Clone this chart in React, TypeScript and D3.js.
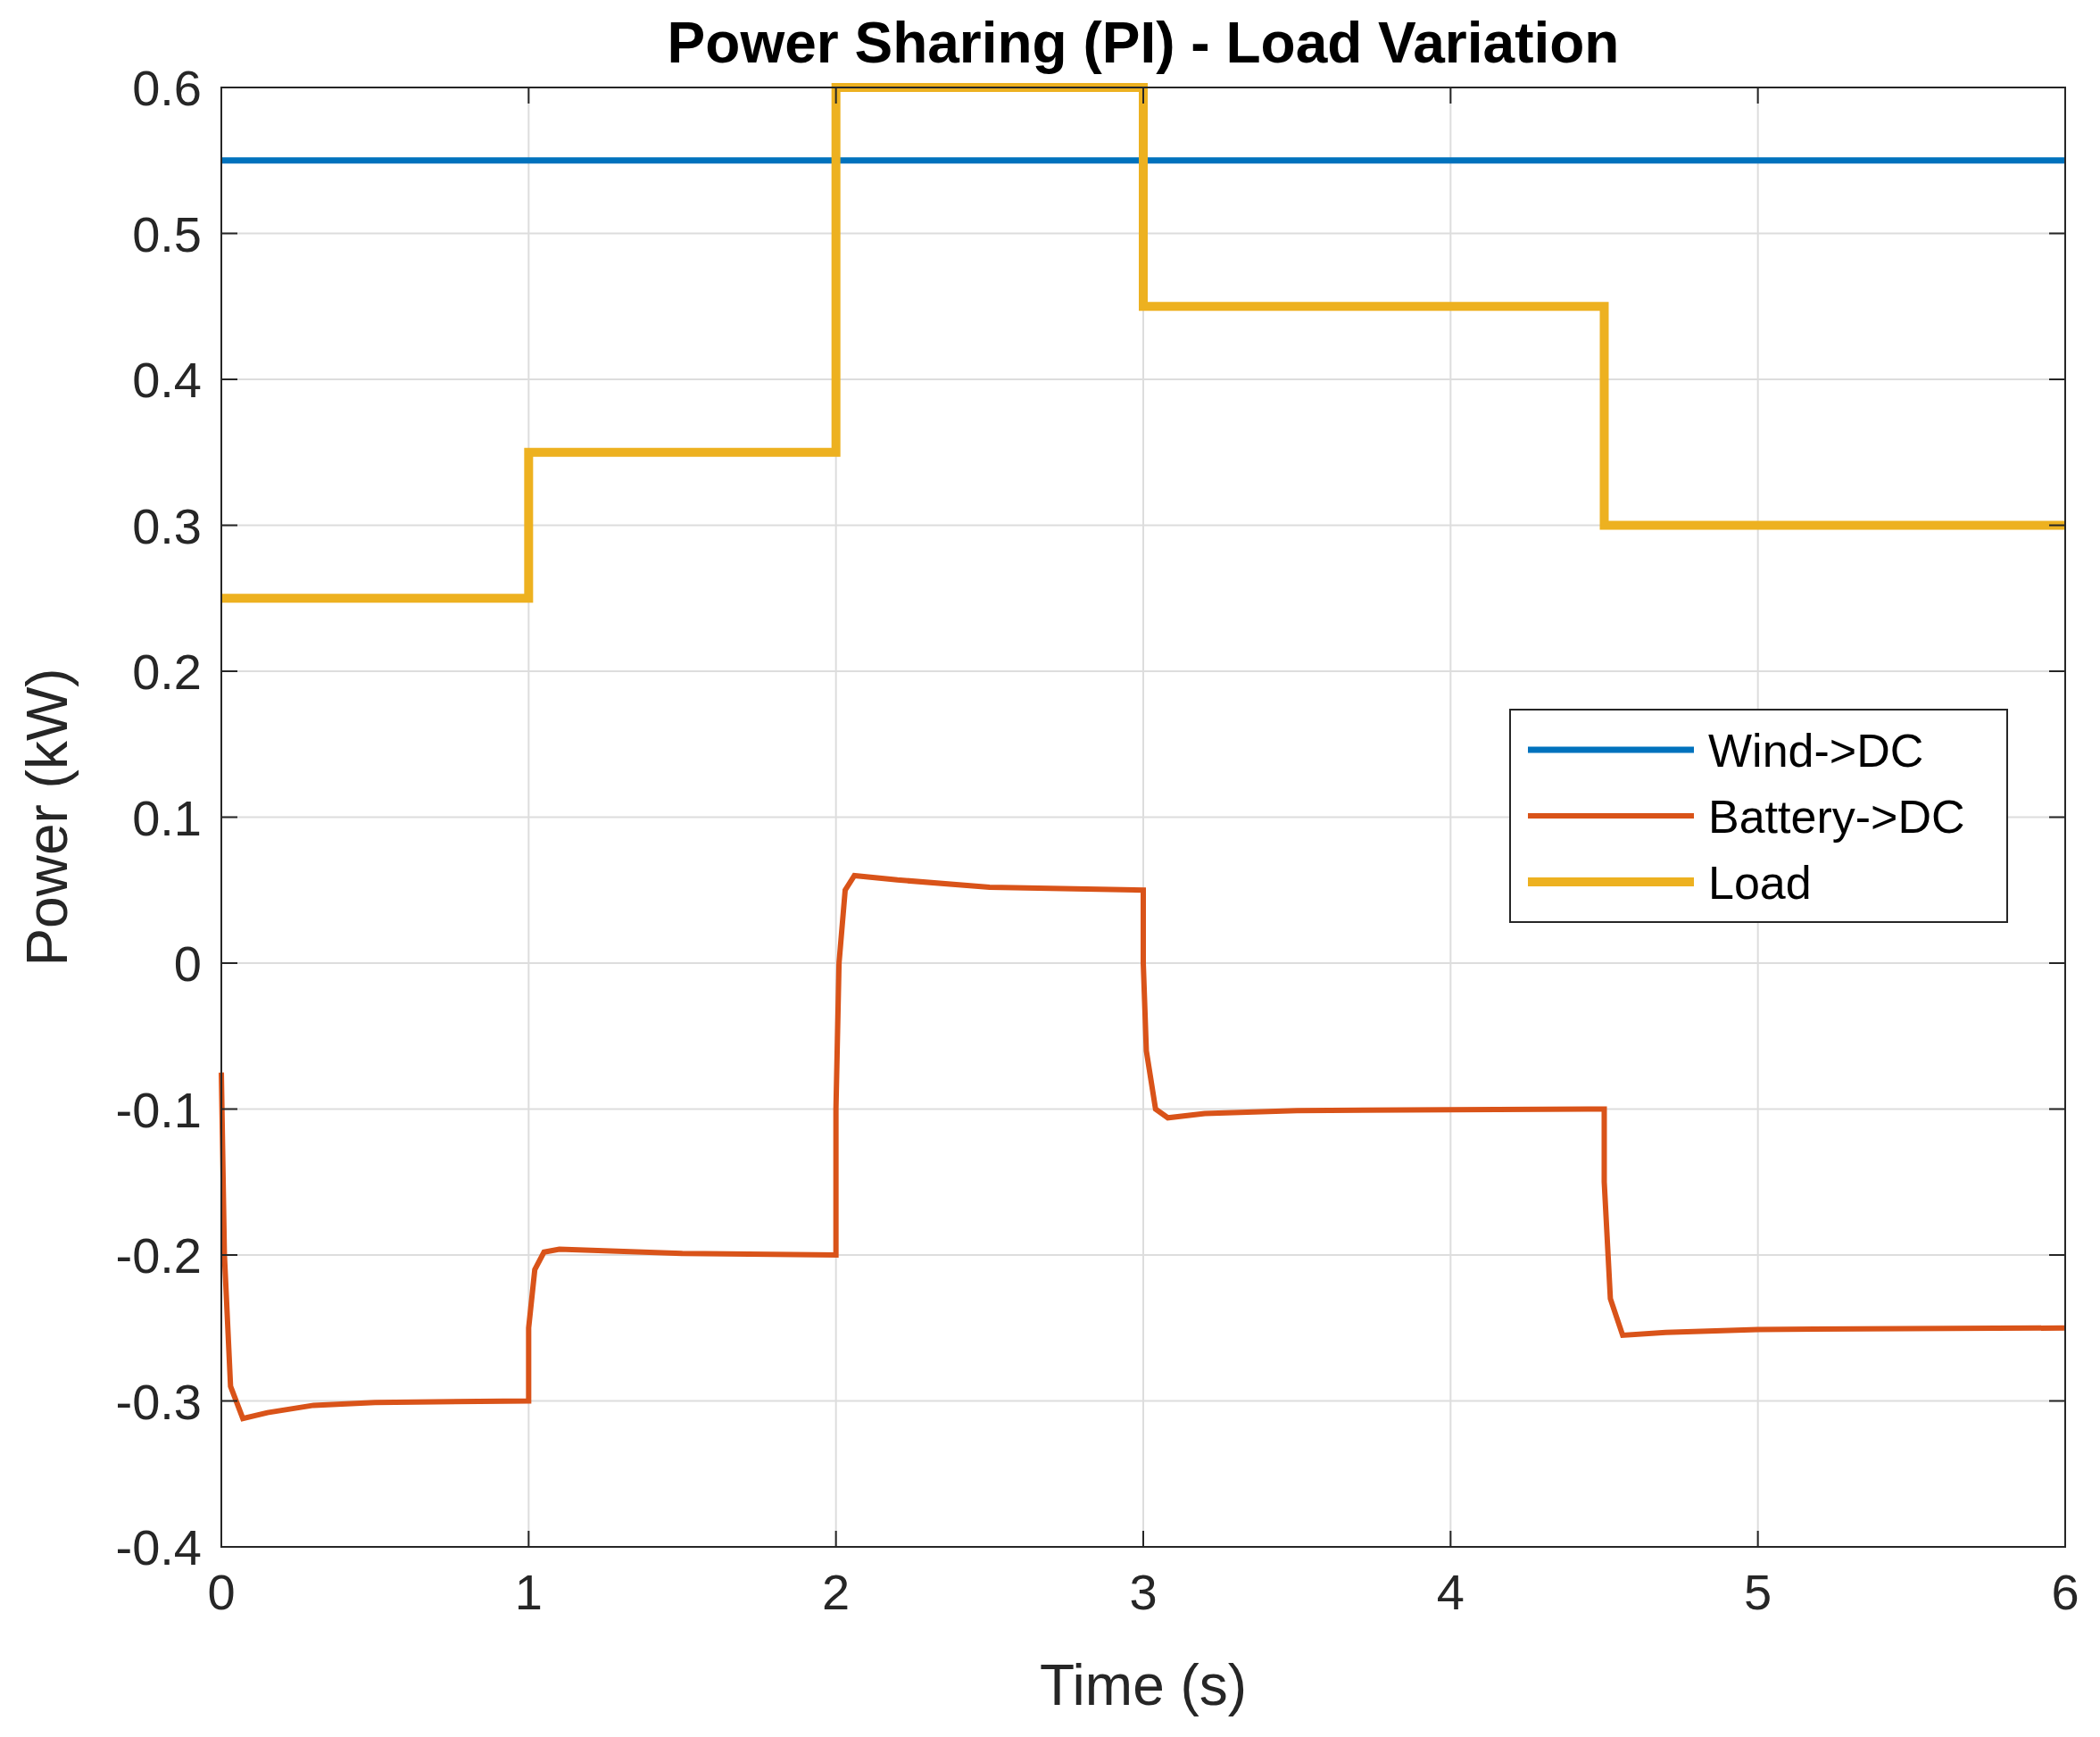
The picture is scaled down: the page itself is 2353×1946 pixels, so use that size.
import React from 'react';
import * as d3 from 'd3';

const windT = [0, 6];
const windP = [0.55, 0.55];
const loadT = [0, 1, 1, 2, 2, 3, 3, 4.5, 4.5, 6];
const loadP = [0.25, 0.25, 0.35, 0.35, 0.6, 0.6, 0.45, 0.45, 0.3, 0.3];
const battT = [0, 0.01, 0.03, 0.07, 0.15, 0.3, 0.5, 1.0, 1.0, 1.02, 1.05, 1.1, 1.5, 2.0, 2.0, 2.01, 2.03, 2.06, 2.2, 2.5, 3.0, 3.0, 3.01, 3.04, 3.08, 3.2, 3.5, 4.5, 4.5, 4.52, 4.56, 4.7, 5.0, 6];
const battP = [-0.075, -0.2, -0.29, -0.312, -0.308, -0.303, -0.301, -0.3, -0.25, -0.21, -0.198, -0.196, -0.199, -0.2, -0.1, 0.0, 0.05, 0.06, 0.057, 0.052, 0.05, 0.0, -0.06, -0.1, -0.106, -0.103, -0.101, -0.1, -0.15, -0.23, -0.255, -0.253, -0.251, -0.25];
const xTicks = [0, 1, 2, 3, 4, 5, 6];
const yTicks = [-0.4, -0.3, -0.2, -0.1, 0, 0.1, 0.2, 0.3, 0.4, 0.5, 0.6];
const yLabels = ['-0.4', '-0.3', '-0.2', '-0.1', '0', '0.1', '0.2', '0.3', '0.4', '0.5', '0.6'];

const series = [
  { name: 'Wind->DC', t: windT, p: windP, color: '#0072BD', w: 7 },
  { name: 'Battery->DC', t: battT, p: battP, color: '#D95319', w: 6 },
  { name: 'Load', t: loadT, p: loadP, color: '#EDB120', w: 10 },
];

const W = 2353, H = 1946;
const L = 248, R = 2314, T = 98, B = 1733;

export default function App() {
  const x = d3.scaleLinear().domain([0, 6]).range([L, R]);
  const y = d3.scaleLinear().domain([-0.4, 0.6]).range([B, T]);
  const font = 'Liberation Sans, Arial, sans-serif';
  const drawOrder = [series[1], series[0], series[2]];
  return (
    <svg width={W} height={H} style={{ display: 'block', position: 'absolute', left: 0, top: 0 }} fontFamily={font}>
      <rect width={W} height={H} fill="#fff" />
      {xTicks.map(t => <line key={'gx' + t} x1={x(t)} x2={x(t)} y1={T} y2={B} stroke="#ddd" strokeWidth={2} />)}
      {yTicks.map(t => <line key={'gy' + t} x1={L} x2={R} y1={y(t)} y2={y(t)} stroke="#ddd" strokeWidth={2} />)}
      {drawOrder.map(s => {
        const line = d3.line<number>().x((_, i) => x(s.t[i])).y(d => y(d));
        return <path key={s.name} d={line(s.p) || ''} fill="none" stroke={s.color} strokeWidth={s.w} strokeLinejoin="miter" />;
      })}
      <rect x={L} y={T} width={R - L} height={B - T} fill="none" stroke="#262626" strokeWidth={2} />
      {xTicks.map(t => (
        <g key={'tx' + t}>
          <line x1={x(t)} x2={x(t)} y1={B} y2={B - 18} stroke="#262626" strokeWidth={2} />
          <line x1={x(t)} x2={x(t)} y1={T} y2={T + 18} stroke="#262626" strokeWidth={2} />
          <text x={x(t)} y={B + 70} textAnchor="middle" fontSize={56} fill="#262626">{t}</text>
        </g>
      ))}
      {yTicks.map((t, i) => (
        <g key={'ty' + t}>
          <line x1={L} x2={L + 18} y1={y(t)} y2={y(t)} stroke="#262626" strokeWidth={2} />
          <line x1={R} x2={R - 18} y1={y(t)} y2={y(t)} stroke="#262626" strokeWidth={2} />
          <text x={L - 22} y={y(t) + 20} textAnchor="end" fontSize={56} fill="#262626">{yLabels[i]}</text>
        </g>
      ))}
      <text x={(L + R) / 2} y={1910} textAnchor="middle" fontSize={64} fill="#262626">Time (s)</text>
      <text transform={`translate(75,${(T + B) / 2}) rotate(-90)`} textAnchor="middle" fontSize={64} fill="#262626">Power (kW)</text>
      <text x={(L + R) / 2} y={70} textAnchor="middle" fontSize={64} fontWeight="bold" fill="#000">Power Sharing (PI) - Load Variation</text>
      <rect x={1692} y={795} width={557} height={238} fill="#fff" stroke="#262626" strokeWidth={2} />
      {series.map((s, i) => (
        <g key={'lg' + s.name}>
          <line x1={1712} x2={1898} y1={840 + i * 74} y2={840 + i * 74} stroke={s.color} strokeWidth={s.w} />
          <text x={1914} y={859 + i * 74} fontSize={52} fill="#000">{s.name}</text>
        </g>
      ))}
    </svg>
  );
}
